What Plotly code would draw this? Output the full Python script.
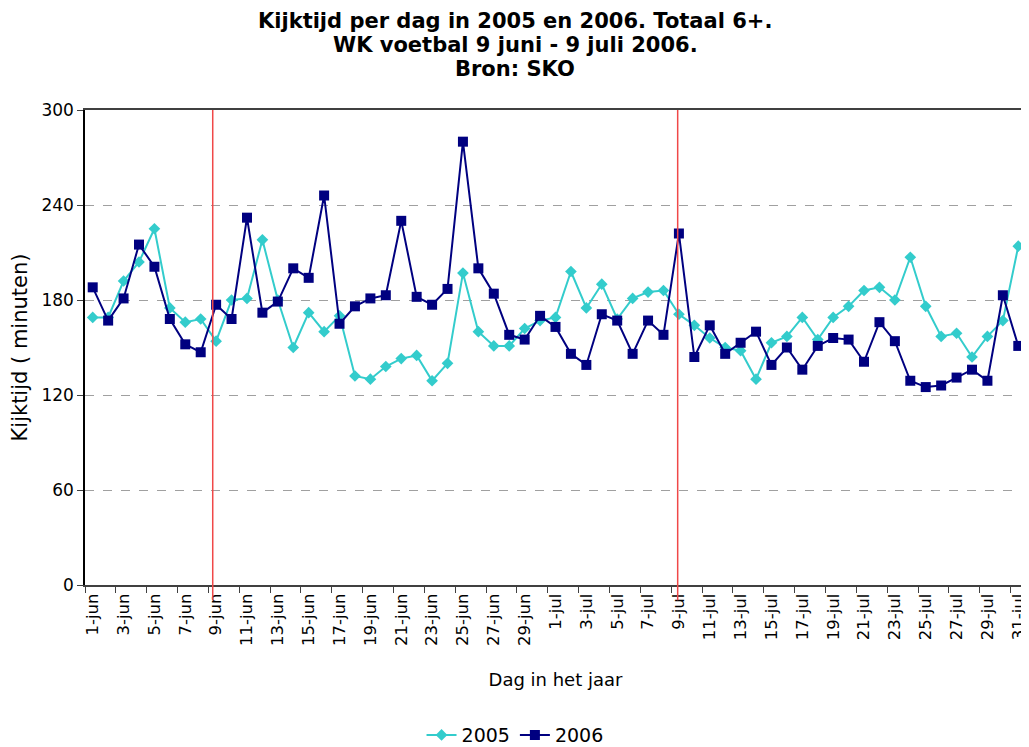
import plotly.graph_objects as go

days = [f"{d}-jun" for d in range(1, 31)] + [f"{d}-jul" for d in range(1, 32)]

kijktijd_2005 = [169, 169, 192, 204, 225, 175, 166, 168, 154, 180,
                 181, 218, 180, 150, 172, 160, 170, 132, 130, 138,
                 143, 145, 129, 140, 197, 160, 151, 151, 162, 167,
                 169, 198, 175, 190, 168, 181, 185, 186, 171, 164,
                 156, 150, 148, 130, 153, 157, 169, 155, 169, 176,
                 186, 188, 180, 207, 176, 157, 159, 144, 157, 167,
                 214]

kijktijd_2006 = [188, 167, 181, 215, 201, 168, 152, 147, 177, 168,
                 232, 172, 179, 200, 194, 246, 165, 176, 181, 183,
                 230, 182, 177, 187, 280, 200, 184, 158, 155, 170,
                 163, 146, 139, 171, 167, 146, 167, 158, 222, 144,
                 164, 146, 153, 160, 139, 150, 136, 151, 156, 155,
                 141, 166, 154, 129, 125, 126, 131, 136, 129, 183,
                 151]

# start / end of the World Cup (category index)
wk_markers = [7.78, 37.92]

title_lines = ["Kijktijd per dag in 2005 en 2006. Totaal 6+.",
               "WK voetbal 9 juni - 9 juli 2006.",
               "Bron: SKO"]

FONT = "DejaVu Sans"

fig = go.Figure()
fig.add_trace(go.Scatter(
    x=days, y=kijktijd_2005, name="2005", mode="lines+markers",
    line=dict(color="#33CCCC", width=2),
    marker=dict(symbol="diamond", size=9, color="#33CCCC")))
fig.add_trace(go.Scatter(
    x=days, y=kijktijd_2006, name="2006", mode="lines+markers",
    line=dict(color="#000080", width=2),
    marker=dict(symbol="square", size=10, color="#000080")))

for xm in wk_markers:
    fig.add_shape(type="line", xref="x", yref="paper",
                  x0=xm, x1=xm, y0=-0.032, y1=1,
                  line=dict(color="#F04848", width=1.5))

# title as annotations, one per line
for i, line in enumerate(title_lines):
    fig.add_annotation(text=f"<b>{line}</b>", xref="paper", yref="paper",
                       x=0.457, y=1.1874 - i * 0.0506, xanchor="center",
                       yanchor="middle", showarrow=False,
                       font=dict(family=FONT, size=21, color="black"))

# page body has an 8px margin, so the figure is 8px smaller than the window
fig.update_layout(
    width=1021, height=739,
    margin=dict(l=77, r=3, t=102, b=162, autoexpand=False),
    paper_bgcolor="white", plot_bgcolor="white",
    font=dict(family=FONT, size=17, color="black"),
    showlegend=True,
    legend=dict(orientation="h", x=0.457, xanchor="center", y=-0.316,
                yanchor="middle", font=dict(size=19), itemwidth=30),
)

fig.update_xaxes(
    type="category", range=[-0.5, 60.5], dtick=2, tickangle=-90,
    tickson="boundaries", ticks="outside", ticklen=6, tickcolor="#404040",
    showline=True, linecolor="#404040", linewidth=2, mirror=True,
    showgrid=False, tickfont=dict(size=16.5), automargin=False,
    title=dict(text="Dag in het jaar", font=dict(size=18), standoff=28))

fig.update_yaxes(
    range=[0, 300], dtick=60, ticks="outside", ticklen=6, tickcolor="#404040",
    showline=True, linecolor="black", linewidth=1.5, mirror=True,
    showgrid=True, gridcolor="#A0A0A0", griddash="dash", gridwidth=1,
    zeroline=False, tickfont=dict(size=17), automargin=False,
    title=dict(text="Kijktijd ( minuten)", font=dict(size=21), standoff=8))

fig.write_html("out.html")
